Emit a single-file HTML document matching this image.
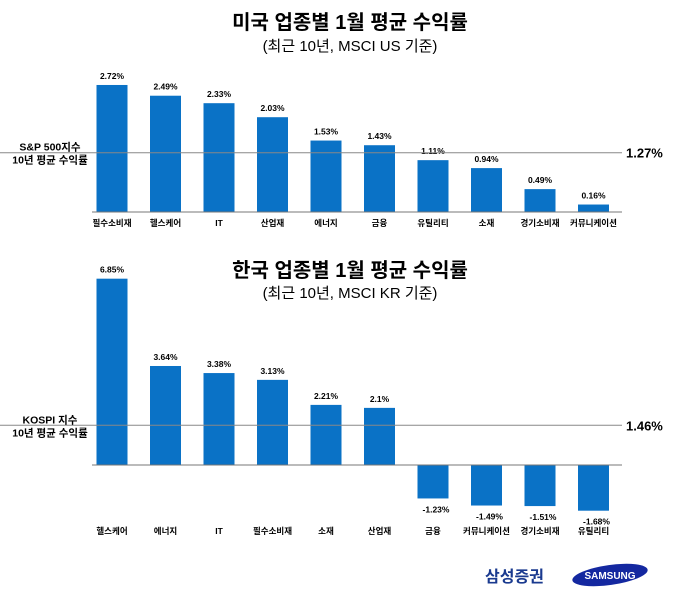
<!DOCTYPE html>
<html><head><meta charset="utf-8"><style>
body{margin:0;background:#fff;width:677px;height:600px;overflow:hidden}
svg text{font-family:"Liberation Sans","Noto Sans CJK KR",sans-serif}
</style></head><body>
<svg id="c" width="677" height="600">
<text x="350" y="29" text-anchor="middle" font-size="20" font-weight="bold">미국 업종별 1월 평균 수익률</text>
<text x="350" y="51" text-anchor="middle" font-size="15">(최근 10년, MSCI US 기준)</text>
<text x="350" y="277" text-anchor="middle" font-size="20" font-weight="bold">한국 업종별 1월 평균 수익률</text>
<text x="350" y="298" text-anchor="middle" font-size="15">(최근 10년, MSCI KR 기준)</text>
<text x="485" y="582" font-size="16" font-weight="bold" fill="#1a3a8f">삼성증권</text>
<ellipse cx="610" cy="575" rx="38" ry="10" fill="#1428a0" transform="rotate(-8 610 575)"/>
<text x="610" y="579" text-anchor="middle" font-size="10" font-weight="bold" fill="#fff">SAMSUNG</text>
</svg>
<script>
const usCats=["필수소비재","헬스케어","IT","산업재","에너지","금융","유틸리티","소재","경기소비재","커뮤니케이션"];
const usVals=[2.72,2.49,2.33,2.03,1.53,1.43,1.11,0.94,0.49,0.16];
const usLabels=["2.72%","2.49%","2.33%","2.03%","1.53%","1.43%","1.11%","0.94%","0.49%","0.16%"];
const usAvg=1.27;
const krCats=["헬스케어","에너지","IT","필수소비재","소재","산업재","금융","커뮤니케이션","경기소비재","유틸리티"];
const krVals=[6.85,3.64,3.38,3.13,2.21,2.1,-1.23,-1.49,-1.51,-1.68];
const krLabels=["6.85%","3.64%","3.38%","3.13%","2.21%","2.1%","-1.23%","-1.49%","-1.51%","-1.68%"];
const krAvg=1.46;
const svg=document.getElementById('c');
const NS='http://www.w3.org/2000/svg';
function mk(tag,attrs,txt){const e=document.createElementNS(NS,tag);for(const k in attrs)e.setAttribute(k,attrs[k]);if(txt!=null)e.textContent=txt;svg.appendChild(e);return e;}
function chart(prefix,cats,vals,labels,avg,base,scale,catY,avgLines){
  const x=i=>112+i*53.5;
  const y=v=>base-v*scale;
  cats.forEach((c,i)=>{
    const v=vals[i];
    const r=mk('rect',{x:x(i)-15.5,y:Math.min(y(v),base),width:31,height:Math.abs(y(v)-base),fill:'#0a72c6'});
    
    
    const ly=v>=0?y(v)-6:y(v)+14;
    const t=mk('text',{x:x(i)+(v<0?3:0),y:ly,'text-anchor':'middle','font-size':'8.5','font-weight':'bold'},labels[i]);
    
    
    const ct=mk('text',{x:x(i),y:catY,'text-anchor':'middle','font-size':'8.5','font-weight':'bold'},c);
    
    
  });
  const ax=mk('line',{x1:92,x2:622,y1:base,y2:base,stroke:'#777','stroke-width':1});
  
  
  const al=mk('line',{x1:0,x2:622,y1:y(avg),y2:y(avg),stroke:'#888','stroke-width':1});
  
  
  const at=mk('text',{x:626,y:y(avg)+5,'font-size':'13','font-weight':'bold'},avg.toFixed(2)+'%');
  
  
  avgLines.forEach((s,k)=>{
    const lt=mk('text',{x:50,y:y(avg)-2+k*13,'text-anchor':'middle','font-size':'10.5','font-weight':'bold'},s);
    
    
  });
}
chart('us',usCats,usVals,usLabels,usAvg,212,46.7,226,['S&P 500지수','10년 평균 수익률']);
chart('kr',krCats,krVals,krLabels,krAvg,465,27.2,534,['KOSPI 지수','10년 평균 수익률']);
</script>
</body></html>
